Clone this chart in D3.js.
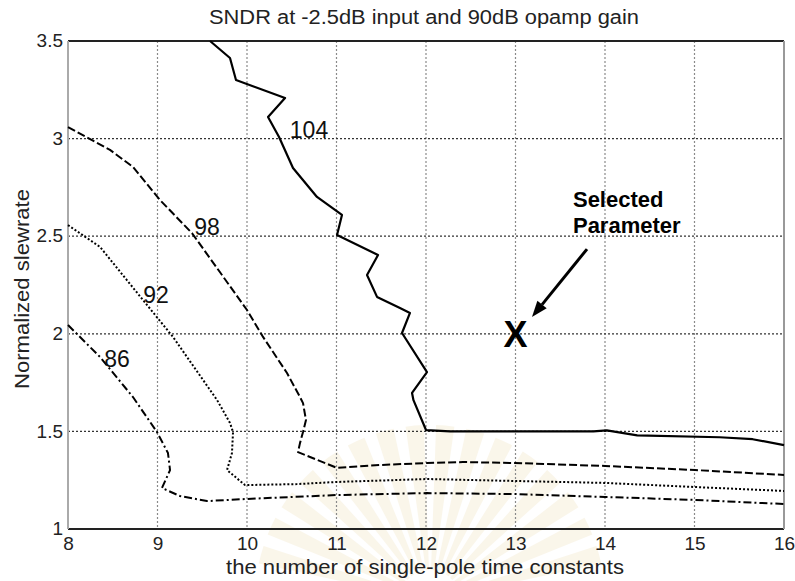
<!DOCTYPE html>
<html>
<head>
<meta charset="utf-8">
<script src="https://cdn.jsdelivr.net/npm/d3@7/dist/d3.min.js"></script>
<style>
  html, body { margin: 0; padding: 0; background: #fff; }
  svg { display: block; font-family: "Liberation Sans", Arial, sans-serif; }
</style>
</head>
<body>
<svg id="chart" width="795" height="581"></svg>
<script>
// ---- data ----
const titleText = "SNDR at -2.5dB input and 90dB opamp gain";
const xLabelText = "the number of single-pole time constants";
const yLabelText = "Normalized slewrate";
const xTicks = [8, 9, 10, 11, 12, 13, 14, 15, 16];
const yTicks = [1, 1.5, 2, 2.5, 3, 3.5];
const yTickLabels = ["1", "1.5", "2", "2.5", "3", "3.5"];

const levels = [104, 98, 92, 86];
const c104x = [9.587, 9.810, 9.877, 10.425, 10.235, 10.358, 10.514, 10.782, 11.061, 11.006, 11.464, 11.341, 11.453, 11.709, 11.821, 11.732, 12.011, 11.844, 11.86, 12.0, 12.27, 13.87, 14.02, 14.36, 15.28, 15.65, 16.0];
const c104y = [3.5, 3.413, 3.300, 3.208, 3.111, 3.008, 2.849, 2.701, 2.609, 2.506, 2.404, 2.301, 2.189, 2.132, 2.107, 2.004, 1.804, 1.697, 1.66, 1.507, 1.50, 1.50, 1.505, 1.48, 1.47, 1.46, 1.43];
const c98x = [8.0, 8.469, 8.726, 9.028, 9.385, 10.0, 10.179, 10.447, 10.592, 10.626, 10.659, 10.626, 10.592, 10.570, 11.006, 11.486, 12.011, 12.413, 12.994, 14.0, 15.006, 16.0];
const c98y = [3.059, 2.942, 2.855, 2.685, 2.516, 2.122, 1.984, 1.799, 1.676, 1.645, 1.558, 1.497, 1.440, 1.394, 1.313, 1.328, 1.338, 1.343, 1.338, 1.323, 1.302, 1.277];
const c92x = [8.0, 8.358, 8.838, 9.173, 9.665, 9.810, 9.844, 9.832, 9.777, 9.978, 10.559, 11.006, 12.011, 12.994, 14.0, 15.006, 16.0];
const c92y = [2.557, 2.445, 2.173, 1.984, 1.661, 1.543, 1.497, 1.389, 1.302, 1.225, 1.230, 1.241, 1.256, 1.246, 1.236, 1.215, 1.195];
const c86x = [8.0, 8.358, 8.726, 8.994, 9.117, 9.140, 9.050, 9.251, 9.553, 10.0, 11.006, 12.011, 12.994, 14.0, 15.006, 16.0];
const c86y = [2.045, 1.881, 1.676, 1.497, 1.389, 1.302, 1.210, 1.169, 1.143, 1.154, 1.174, 1.184, 1.179, 1.164, 1.149, 1.128];

// contour label anchor (data coords, text baseline)
const labelX = [10.693, 9.553, 8.983, 8.547];
const labelY = [3.003, 2.506, 2.158, 1.830];

// annotation
const selectedPoint = [13, 2.0];
const arrowFrom = [13.799, 2.434];
const arrowTo = [13.184, 2.086];
const noteLines = ["Selected", "Parameter"];
const noteAnchor = [13.642, 2.650];
const noteLine2Y = 2.516;

// ---- layout ----
const svg = d3.select("#chart");
const W = 795, H = 581;
const m = { left: 68, top: 41, right: 11, bottom: 52 };
const iw = W - m.left - m.right, ih = H - m.top - m.bottom;

svg.append("rect").attr("width", W).attr("height", H).attr("fill", "#fff");

// faint watermark fan (background decoration)
const wm = svg.append("g").attr("transform", "translate(430,600)").attr("opacity", 0.3);
const arc = d3.arc().innerRadius(30).outerRadius(175);
d3.range(-75, 76, 10).forEach(a => {
  wm.append("path")
    .attr("d", arc({ startAngle: (a - 3) * Math.PI / 180, endAngle: (a + 3) * Math.PI / 180 }))
    .attr("fill", "#f0e2bc");
});

const x = d3.scaleLinear().domain([8, 16]).range([0, iw]);
const y = d3.scaleLinear().domain([1, 3.5]).range([ih, 0]);

const g = svg.append("g").attr("transform", `translate(${m.left},${m.top})`);

// grid
g.append("g").selectAll("line").data(xTicks.slice(1, -1)).join("line")
  .attr("x1", d => x(d)).attr("x2", d => x(d)).attr("y1", 0).attr("y2", ih)
  .attr("stroke", "#8a8a8a").attr("stroke-width", 1.2).attr("stroke-dasharray", "2,2");
g.append("g").selectAll("line").data(yTicks.slice(1, -1)).join("line")
  .attr("x1", 0).attr("x2", iw).attr("y1", d => y(d)).attr("y2", d => y(d))
  .attr("stroke", "#333").attr("stroke-width", 1.2).attr("stroke-dasharray", "2,2");

// axes
const xAxis = d3.axisBottom(x).tickValues(xTicks).tickSize(0).tickPadding(8).tickFormat(d3.format("d"));
const gx = g.append("g").attr("transform", `translate(0,${ih})`).call(xAxis);
gx.select(".domain").remove();
gx.selectAll("text").attr("font-size", 19).attr("fill", "#222").attr("font-family", "Liberation Sans, Arial, sans-serif");

const yAxis = d3.axisLeft(y).tickValues(yTicks).tickSize(0).tickPadding(5).tickFormat((d, i) => yTickLabels[i]);
const gy = g.append("g").call(yAxis);
gy.select(".domain").remove();
gy.selectAll("text").attr("font-size", 19).attr("fill", "#222").attr("dy", "0.3em").attr("font-family", "Liberation Sans, Arial, sans-serif");

// frame
g.append("line").attr("x1", 0).attr("x2", iw).attr("y1", 0).attr("y2", 0).attr("stroke", "#222").attr("stroke-width", 2);
g.append("line").attr("x1", 0).attr("x2", iw).attr("y1", ih).attr("y2", ih).attr("stroke", "#222").attr("stroke-width", 2);
g.append("line").attr("x1", 0).attr("x2", 0).attr("y1", 0).attr("y2", ih).attr("stroke", "#aaa").attr("stroke-width", 2);
g.append("line").attr("x1", iw).attr("x2", iw).attr("y1", 0).attr("y2", ih).attr("stroke", "#999").attr("stroke-width", 2);

// contours
const series = [
  { xs: c104x, ys: c104y, dash: null, w: 2.2 },
  { xs: c98x, ys: c98y, dash: "8,3", w: 2 },
  { xs: c92x, ys: c92y, dash: "2,2", w: 2 },
  { xs: c86x, ys: c86y, dash: "8,3,2,3", w: 2 }
];
const line = d3.line().x(d => x(d[0])).y(d => y(d[1]));
series.forEach(s => {
  const pts = s.xs.map((v, i) => [v, s.ys[i]]);
  g.append("path").attr("d", line(pts)).attr("fill", "none").attr("stroke", "#000")
    .attr("stroke-width", s.w).attr("stroke-linejoin", "round")
    .attr("stroke-dasharray", s.dash);
});

// contour labels
g.append("g").selectAll("text").data(levels).join("text")
  .attr("x", (d, i) => x(labelX[i])).attr("y", (d, i) => y(labelY[i]))
  .attr("text-anchor", "middle").attr("font-size", 23).attr("fill", "#111")
  .text(d => d);

// annotation
g.append("text").attr("x", x(selectedPoint[0])).attr("y", y(selectedPoint[1]))
  .attr("text-anchor", "middle").attr("dy", "0.36em")
  .attr("font-size", 36).attr("font-weight", "bold").attr("fill", "#000").text("X");

const ax1 = x(arrowFrom[0]), ay1 = y(arrowFrom[1]), ax2 = x(arrowTo[0]), ay2 = y(arrowTo[1]);
const ang = Math.atan2(ay2 - ay1, ax2 - ax1);
const hl = 16, hw = 6;
const bx = ax2 - hl * Math.cos(ang), by = ay2 - hl * Math.sin(ang);
g.append("line").attr("x1", ax1).attr("y1", ay1).attr("x2", bx).attr("y2", by)
  .attr("stroke", "#000").attr("stroke-width", 3);
g.append("path")
  .attr("d", `M${ax2},${ay2}L${bx + hw * Math.sin(ang)},${by - hw * Math.cos(ang)}L${bx - hw * Math.sin(ang)},${by + hw * Math.cos(ang)}Z`)
  .attr("fill", "#000");

const note = g.append("text").attr("font-size", 22).attr("font-weight", "bold").attr("fill", "#000");
note.append("tspan").attr("x", x(noteAnchor[0])).attr("y", y(noteAnchor[1])).text(noteLines[0]);
note.append("tspan").attr("x", x(noteAnchor[0])).attr("y", y(noteLine2Y)).text(noteLines[1]);

// titles
svg.append("text").attr("x", 424).attr("y", 24).attr("text-anchor", "middle")
  .attr("font-size", 20).attr("fill", "#222").attr("textLength", 430).attr("lengthAdjust", "spacingAndGlyphs")
  .text(titleText);
svg.append("text").attr("x", 425).attr("y", 574).attr("text-anchor", "middle")
  .attr("font-size", 20).attr("fill", "#222").attr("textLength", 398).attr("lengthAdjust", "spacingAndGlyphs")
  .text(xLabelText);
svg.append("text").attr("transform", "translate(29,289) rotate(-90)").attr("text-anchor", "middle")
  .attr("font-size", 20).attr("fill", "#222").attr("textLength", 200).attr("lengthAdjust", "spacingAndGlyphs")
  .text(yLabelText);
</script>
</body>
</html>
